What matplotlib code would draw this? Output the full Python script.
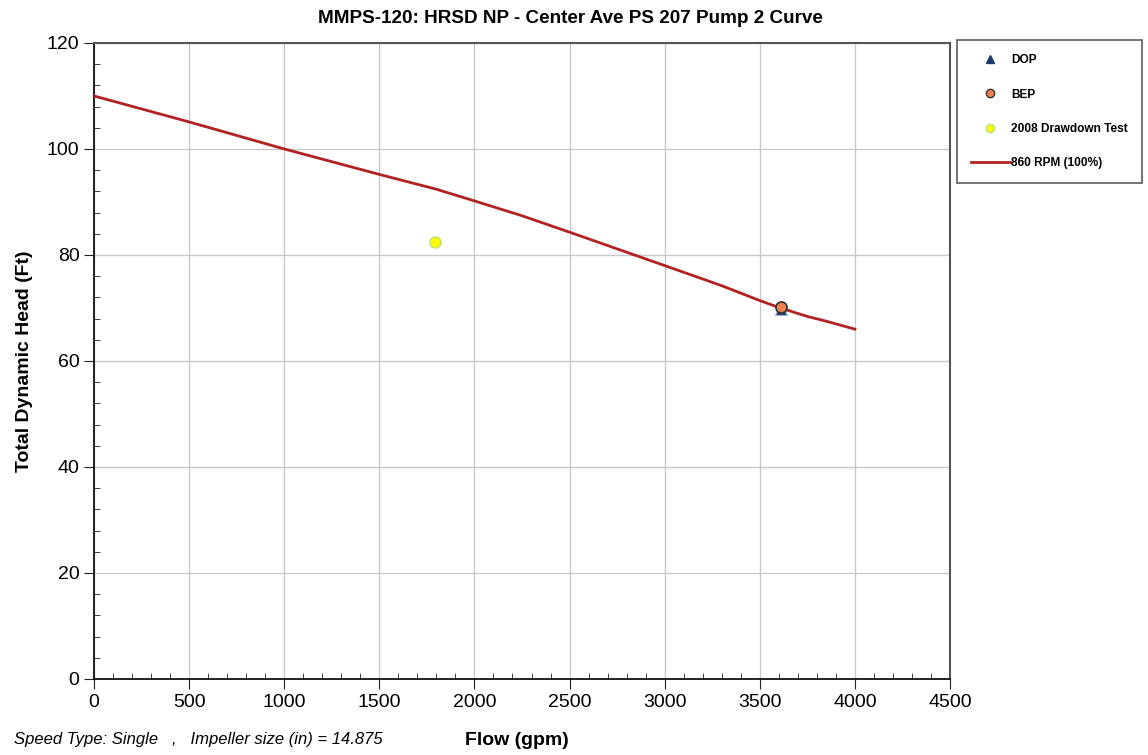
import matplotlib
matplotlib.use('Agg')
import matplotlib.pyplot as plt
from matplotlib.ticker import MultipleLocator
from matplotlib.lines import Line2D

plt.rcParams['font.family'] = ['Liberation Sans', 'DejaVu Sans']

# pump curve, 860 RPM (100%)
curve_flow = [0, 500, 1000, 1500, 1800, 2000, 2250, 2500, 3000, 3300, 3500, 3600, 3750, 3850, 4000]
curve_head = [110, 105.1, 100, 95.2, 92.4, 90.2, 87.4, 84.3, 78, 74.2, 71.4, 70.1, 68.4, 67.5, 66]

dop_flow, dop_head = [3610], [69.8]
bep_flow, bep_head = [3610], [70.2]
test_flow, test_head = [1795], [82.4]

fig = plt.figure(figsize=(11.48, 7.55), dpi=100)
ax = fig.add_axes([0.0819, 0.1007, 0.7456, 0.8424])

ax.plot(curve_flow, curve_head, color='#b22222', lw=2, zorder=3)
ax.plot(dop_flow, dop_head, '^', color='#1f3a6e', ms=8, mec='#9fb4d8', mew=0.8, zorder=4)
ax.plot(bep_flow, bep_head, 'o', color='#f08050', ms=8, mec='#333333', mew=1.2, zorder=5)
ax.plot(test_flow, test_head, 'o', color='#ffff00', ms=8, mec='#b8e070', mew=1, zorder=5)

ax.set_xlim(0, 4500)
ax.set_ylim(0, 120)
ax.xaxis.set_major_locator(MultipleLocator(500))
ax.xaxis.set_minor_locator(MultipleLocator(100))
ax.yaxis.set_major_locator(MultipleLocator(20))
ax.yaxis.set_minor_locator(MultipleLocator(4))
ax.grid(True, which='major', color='#c8c8c8', lw=1)
ax.set_axisbelow(True)
ax.tick_params(which='major', direction='out', length=7, labelsize=14, color='#222222')
ax.tick_params(which='minor', direction='in', length=4, color='#222222')
ax.tick_params(which='minor', left=True, bottom=True)
for s in ['left', 'bottom']:
    ax.spines[s].set_color('#111111')
    ax.spines[s].set_linewidth(1.3)
for s in ['top', 'right']:
    ax.spines[s].set_color('#555555')
    ax.spines[s].set_linewidth(1.5)

fig.text(0.497, 0.975, 'MMPS-120: HRSD NP - Center Ave PS 207 Pump 2 Curve',
         fontsize=13.6, fontweight='bold', ha='center', va='center')
ax.set_ylabel('Total Dynamic Head (Ft)', fontsize=14, fontweight='bold', labelpad=10)
fig.text(0.45, 0.013, 'Flow (gpm)', fontsize=14, fontweight='bold', ha='center')
fig.text(0.012, 0.015, 'Speed Type: Single   ,   Impeller size (in) = 14.875',
         fontsize=12, style='italic')

handles = [
    Line2D([], [], ls='none', marker='^', color='#1f3a6e', ms=6),
    Line2D([], [], ls='none', marker='o', color='#f08050', mec='#333333', ms=6),
    Line2D([], [], ls='none', marker='o', color='#ffff00', mec='#b8e070', ms=6),
    Line2D([], [], color='#b22222', lw=2),
]
labels = ['DOP', 'BEP', '2008 Drawdown Test', '860 RPM (100%)']
leg = fig.legend(handles, labels, loc='upper left', bbox_to_anchor=(0.8336, 0.947),
                 fancybox=False, edgecolor='#333333',
                 prop={'weight': 'bold', 'size': 8.6}, labelspacing=1.86,
                 handlelength=3.2, borderpad=1.2, handletextpad=0.15,
                 borderaxespad=0)
leg.get_frame().set_linewidth(1.2)

fig.savefig('out.png', dpi=100)
